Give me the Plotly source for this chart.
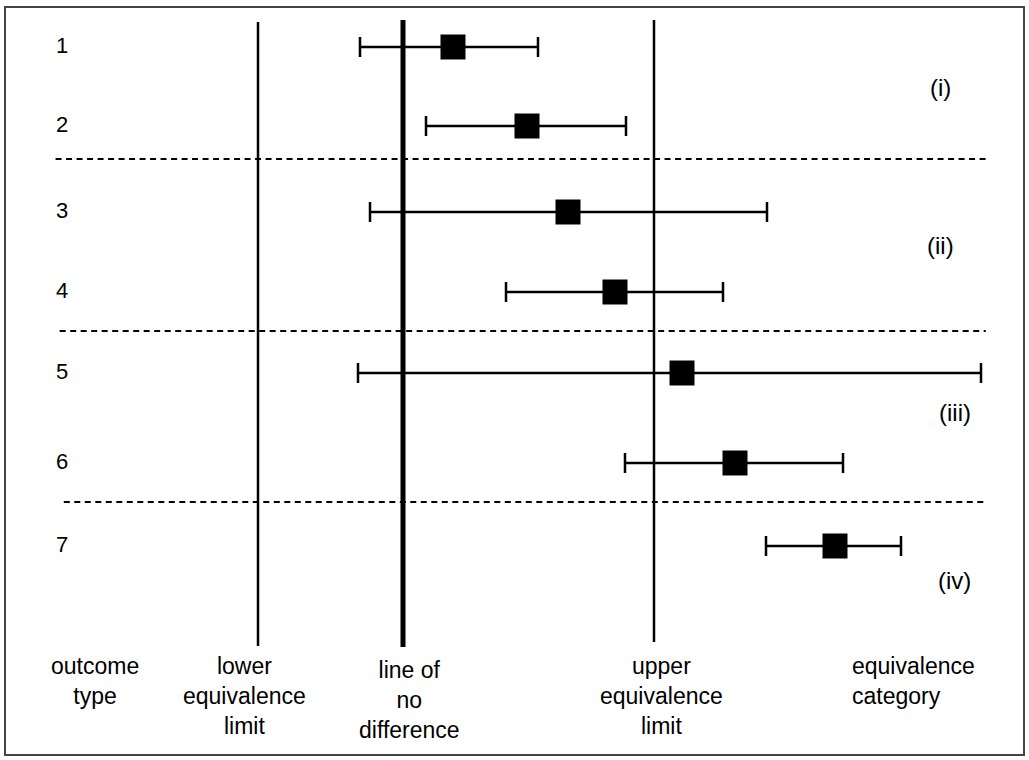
import plotly.graph_objects as go

# ---- data (x in effect units: 0 = no difference; y = vertical row position) ----
outcome_types = ["1", "2", "3", "4", "5", "6", "7"]
row_pos = [47, 126, 212, 292, 373, 463, 546]
estimate = [0.50, 1.24, 1.65, 2.12, 2.79, 3.32, 4.32]
ci_low = [-0.43, 0.23, -0.33, 1.03, -0.45, 2.22, 3.63]
ci_high = [1.35, 2.23, 3.64, 3.20, 5.78, 4.40, 4.98]

lower_limit = -1.45
no_difference = 0.0
upper_limit = 2.51

category_labels = ["(i)", "(ii)", "(iii)", "(iv)"]
category_pos = [87, 245, 412, 580]
divider_pos = [159, 331, 502]

FONT = "Liberation Sans, Arial, sans-serif"

fig = go.Figure()

fig.add_trace(go.Scatter(
    x=estimate, y=row_pos, mode="markers",
    marker=dict(symbol="square", size=25, color="black"),
    error_x=dict(type="data", symmetric=False,
                 array=[h - e for h, e in zip(ci_high, estimate)],
                 arrayminus=[e - l for e, l in zip(estimate, ci_low)],
                 color="black", thickness=2.5, width=10),
    showlegend=False, hoverinfo="skip",
))

# vertical reference lines
for xv, w, y0, y1 in [(lower_limit, 2.5, 22, 646), (no_difference, 5, 20, 647), (upper_limit, 2.5, 20, 642)]:
    fig.add_shape(type="line", xref="x", yref="y", x0=xv, x1=xv, y0=y0, y1=y1,
                  line=dict(color="black", width=w))

# dashed dividers
for i, yv in enumerate(divider_pos):
    fig.add_shape(type="line", xref="paper", yref="y", x0=0.054 + 0.004 * i, x1=0.958,
                  y0=yv, y1=yv, line=dict(color="black", width=2, dash="6px,4.5px"))

# row labels
for lab, yv in zip(outcome_types, row_pos):
    fig.add_annotation(x=0.060, xref="paper", y=yv - 2, yref="y", text=lab, showarrow=False,
                       font=dict(family=FONT, size=22, color="black"), xanchor="center")

# category labels
for lab, yv, xp in zip(category_labels, category_pos, [0.914, 0.914, 0.928, 0.928]):
    fig.add_annotation(x=xp, xref="paper", y=yv, yref="y", text=lab, showarrow=False,
                       font=dict(family=FONT, size=24, color="black"), xanchor="center")

# bottom labels
bottom = [
    ("outcome<br>type", 0.092, 681, "center"),
    ("lower<br>equivalence<br>limit", 0.238, 696, "center"),
    ("line of<br>no<br>difference", 0.398, 700, "center"),
    ("upper<br>equivalence<br>limit", 0.643, 696, "center"),
    ("equivalence<br>category", 0.826, 681, "left"),
]
for txt, xp, yv, al in bottom:
    fig.add_annotation(x=xp, xref="paper", y=yv, yref="y", text=txt, showarrow=False,
                       align=al, xanchor="center" if al == "center" else "left",
                       yanchor="middle",
                       font=dict(family=FONT, size=23, color="black"))

# frame
fig.add_shape(type="rect", xref="paper", yref="paper", x0=5 / 1029, x1=1024 / 1029,
              y0=1 - 755 / 760, y1=1 - 7 / 760, line=dict(color="#444", width=2))

fig.update_xaxes(range=[-4.03, 6.26], visible=False, fixedrange=True)
fig.update_yaxes(range=[760, 0], visible=False, fixedrange=True)
fig.update_layout(width=1029, height=760, margin=dict(l=0, r=0, t=0, b=0),
                  plot_bgcolor="white", paper_bgcolor="white")

fig.write_html("out.html", config={"displayModeBar": False},
               post_script="document.body.style.margin='0';document.body.style.overflow='hidden';")
